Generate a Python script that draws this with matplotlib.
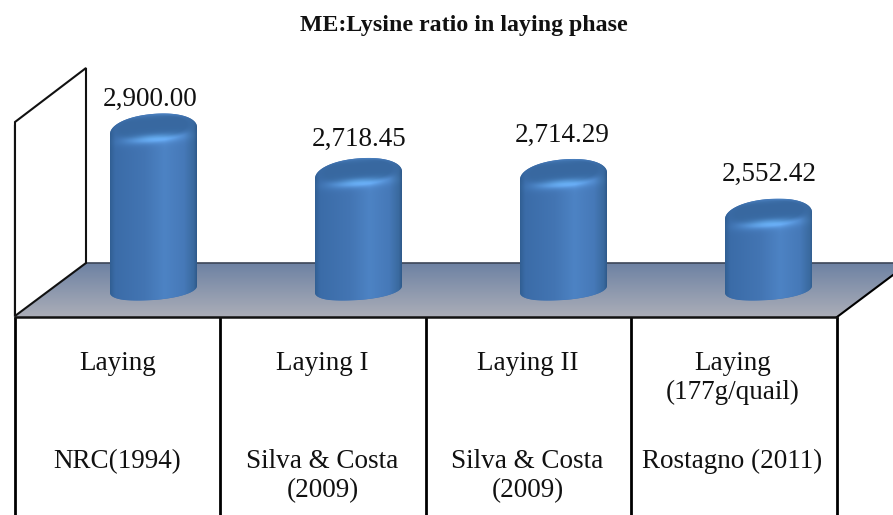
import numpy as np
import matplotlib
matplotlib.use("Agg")
import matplotlib.pyplot as plt
from matplotlib.path import Path
from matplotlib.patches import Polygon

# Chart data
values = [2900.00, 2718.45, 2714.29, 2552.42]
value_labels = ["2,900.00", "2,718.45", "2,714.29", "2,552.42"]
phase_labels = ["Laying", "Laying I", "Laying II", "Laying\n(177g/quail)"]
source_labels = ["NRC(1994)", "Silva & Costa\n(2009)", "Silva & Costa\n(2009)", "Rostagno (2011)"]
title_text = "ME:Lysine ratio in laying phase"

W, H = 893, 515
plt.rcParams["font.family"] = ["Liberation Serif", "DejaVu Serif"]

fig = plt.figure(figsize=(W / 100, H / 100), dpi=100, facecolor="white")

# Backdrop axes in pixel units: wall, floor and category table
back = fig.add_axes([0, 0, 1, 1], zorder=0)
back.set_xlim(0, W)
back.set_ylim(H, 0)
back.axis("off")

# Value axes: one unit on x per category, y runs in ME:Lysine units
PX_PER_UNIT = 0.2449
X0, DX = 153.5, 205.0
Y_REF, V_REF = 157.25, 2721.0
BASE_PX = 300.0
TABLE_SHIFT = -0.176  # table cells sit left of the cylinders


def value_at_px(py):
    return V_REF + (Y_REF - py) / PX_PER_UNIT


def px_at_value(v):
    return Y_REF + (V_REF - v) * PX_PER_UNIT


ax = fig.add_axes([0, 0, 1, 1], zorder=1)
ax.patch.set_alpha(0)
ax.axis("off")
xlim = ((0 - X0) / DX, (W - X0) / DX)
ylim = (value_at_px(H), value_at_px(0))
base_value = value_at_px(BASE_PX)

# Floor with a vertical grey-blue gradient
floor_pts = [(86, 263), (909, 263), (837, 317), (15, 317)]
floor_grad = np.linspace(0, 1, 60)[:, None, None]
floor_top = np.array([0.43, 0.51, 0.64])[None, None, :]
floor_bot = np.array([0.67, 0.68, 0.72])[None, None, :]
floor_img = back.imshow(floor_top * (1 - floor_grad) + floor_bot * floor_grad,
                        extent=(15, W, 317, 263), aspect="auto", zorder=1)
floor_img.set_clip_path(Polygon(floor_pts, transform=back.transData))
back.set_xlim(0, W)
back.set_ylim(H, 0)
back.plot([86, W], [263, 263], color="#3c4658", lw=1.2, zorder=2)
back.plot([837, W], [317, 275], color="black", lw=1.5, zorder=2)

# Side wall
back.add_patch(Polygon([(15, 316), (15, 122), (86, 68), (86, 263)], closed=True,
                       facecolor="white", edgecolor="#111111", lw=1.5, zorder=2))
back.plot([14, 14], [125, 316], color="#9a9a9a", lw=1.0, zorder=1.5)

# Category table beneath the floor
for px in [15, 220, 426, 631, 837]:
    back.plot([px, px], [317, H], color="black", lw=2.0, zorder=3, solid_capstyle="butt")
back.plot([15, 837], [317, 317], color="#111111", lw=1.8, zorder=3)


def interp_rgb(u, stops):
    pos = [s[0] for s in stops]
    rgb = np.array([matplotlib.colors.to_rgb(s[1]) for s in stops])
    return np.stack([np.interp(u, pos, rgb[:, c]) for c in range(3)], axis=-1)


SIDE_STOPS = [(-1.0, "#315f93"), (-0.88, "#3b6ca8"), (-0.2, "#4375b3"), (0.25, "#4d83c4"),
              (0.7, "#4679b8"), (0.92, "#3a6a9f"), (1.0, "#2d5787")]
HALF_W, TILT, TOP_B, BOT_B = 43.5, 0.08, 17.0, 11.0


def cylinder_outline(cx, top_px):
    """Closed outline with a rounded, slightly tilted cap and base."""
    shoulder = top_px + TOP_B + 0.5
    foot = BASE_PX - BOT_B
    t = np.linspace(np.pi, 0, 70)
    xt = np.sign(np.cos(t)) * np.abs(np.cos(t)) ** (2 / 2.1)
    yt = np.abs(np.sin(t)) ** (2 / 2.1)
    top = np.column_stack([cx + HALF_W * xt, shoulder - TOP_B * yt - TILT * HALF_W * xt])
    t = np.linspace(0, np.pi, 50)
    xb = np.sign(np.cos(t)) * np.abs(np.cos(t)) ** (2 / 2.2)
    yb = np.abs(np.sin(t)) ** (2 / 2.2)
    bottom = np.column_stack([cx + HALF_W * xb, foot + BOT_B * yb - TILT * HALF_W * xb])
    return Path(np.vstack([top, bottom, top[:1]]), closed=True)


def cylinder_shading(cx, top_px):
    """RGB shading over the cylinder's pixel box: side gradient, cap and rim light."""
    ys, xs = np.mgrid[top_px - 2:BASE_PX + 2:1.0, cx - HALF_W - 1:cx + HALF_W + 1:0.5]
    u = (xs - cx) / HALF_W
    rgb = interp_rgb(u, SIDE_STOPS)
    dy = ys - (top_px + 13.5 - TILT * (xs - cx))

    # Cap face: a darker tilted ellipse with a soft edge
    cap = ((u / 0.95) ** 2 + (dy / 13.0) ** 2)
    cap_w = np.clip((1.15 - cap) / 0.5, 0, 1)[..., None]
    rgb = rgb * (1 - cap_w) + np.array([0.22, 0.41, 0.63]) * cap_w

    # Upper rim of the cap is a touch lighter
    rim = np.exp(-((dy + 12.0) / 3.0) ** 2) * (1 - u ** 2)
    rgb = rgb + rim[..., None] * np.array([0.03, 0.04, 0.05])

    # Highlight on the lower cap edge
    glow = np.exp(-(((xs - cx) / 24.0) ** 2) - ((dy - 11.5) / 4.0) ** 2)
    rgb = rgb + glow[..., None] * np.array([0.13, 0.19, 0.21])
    band = np.exp(-((dy - 12.0) / 6.0) ** 2) * (1 - u ** 2)
    rgb = rgb + band[..., None] * np.array([0.03, 0.05, 0.07])
    return np.clip(rgb, 0, 1)


# Cylinders: each bar spans base_value..value and is clipped to its outline
centers = np.arange(len(values))
bars = ax.bar(centers, np.array(values) - base_value, bottom=base_value,
              width=2 * HALF_W / DX, color="#4273b1", linewidth=0, zorder=2)
ax.set_xlim(*xlim)
ax.set_ylim(*ylim)

for i, bar in zip(centers, bars):
    cx = X0 + DX * (bar.get_x() + bar.get_width() / 2)
    top_px = px_at_value(bar.get_y() + bar.get_height())
    outline = cylinder_outline(cx, top_px)
    bar.set_clip_path(outline, transform=back.transData)
    img = ax.imshow(cylinder_shading(cx, top_px), origin="upper", aspect="auto", zorder=3,
                    interpolation="bilinear",
                    extent=((cx - HALF_W - 1 - X0) / DX, (cx + HALF_W + 1 - X0) / DX,
                            value_at_px(BASE_PX + 2), value_at_px(top_px - 2)))
    img.set_clip_path(outline, transform=back.transData)
ax.set_xlim(*xlim)
ax.set_ylim(*ylim)

# Value labels above the cylinders (offsets in pixels)
label_dx = [-3, 0.5, -1.5, 1]
label_dy = [2, 6, 11, 12]
for i, (v, txt) in enumerate(zip(values, value_labels)):
    ax.annotate(txt, (i, v), xytext=(label_dx[i] * 0.72, label_dy[i] * 0.72),
                textcoords="offset points", ha="center", va="bottom", fontsize=19.5,
                color="#111111", zorder=5)

# Table text
for i, txt in enumerate(phase_labels):
    ax.text(i + TABLE_SHIFT, value_at_px(351), txt, ha="center", va="top", fontsize=19.5,
            color="#111111", linespacing=1.22, zorder=5)
for i, txt in enumerate(source_labels):
    ax.text(i + TABLE_SHIFT, value_at_px(449), txt, ha="center", va="top", fontsize=19.5,
            color="#111111", linespacing=1.22, zorder=5)

fig.text(463.5 / W, 1 - 25 / H, title_text, ha="center", va="center", fontsize=17.2,
         fontweight="bold", color="#111111")

fig.savefig("out.png", dpi=100, facecolor="white")
